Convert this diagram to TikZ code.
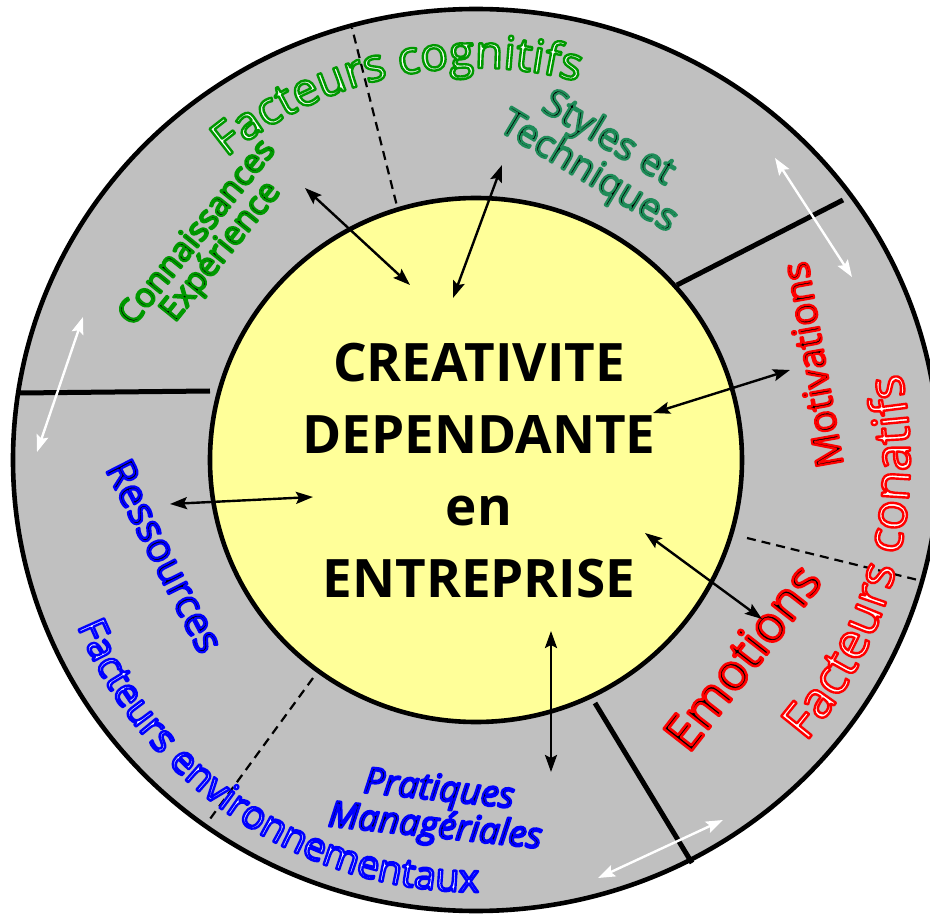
\documentclass[tikz,border=0pt]{standalone}
\usepackage{fontspec}
\setmainfont{Open Sans}
\usetikzlibrary{arrows.meta,decorations.text}

\definecolor{ringgrey}{RGB}{192,192,192}
\definecolor{coreyellow}{RGB}{255,255,153}

% outlined texts: stroke colour (rgb), stroke width
\newcommand{\outl}[2]{\special{pdf:literal direct #1 RG #2 w 1 j 2 Tr}}
\newcommand{\ringtext}[3]{{\color{black}\outl{#1}{#2}#3\special{pdf:literal direct 0 Tr}}}
\newcommand{\facet}[1]{\color{white}\outl{#1}{2.4}}
\newcommand{\catfont}[1]{\fontsize{#1}{#1}\selectfont}
\newcommand{\cogn}{0 0.6 0}
\newcommand{\styl}{0.12 0.55 0.35}
\newcommand{\conr}{1 0 0}
\newcommand{\envb}{0 0 1}

\tikzset{
  link/.style={<->, >={Stealth[length=17pt,width=12pt,inset=3pt]}, line width=2.4pt},
  wlink/.style={link, white},
  split/.style={line width=5pt},
  dsplit/.style={line width=2.2pt, dash pattern=on 9pt off 6pt},
  sublabel/.style={align=center, inner sep=0pt}
}

\begin{document}
\begin{tikzpicture}[x=1pt, y=1pt]
    \useasboundingbox (-476,-456) rectangle (454,460);

    % outer ring
    \draw [line width=4.6pt, fill=ringgrey] (0,0) ellipse [x radius=463, y radius=451];

    % borders between the sectors
    \draw [split] (-456,67) -- (-266,69);
    \draw [split] (201,175) -- (367,260);
    \draw [split] (119,-243) -- (216,-403);
    \draw [dsplit] (-76,242) -- (-124,432);
    \draw [dsplit] (271,-78) -- (446,-121);
    \draw [dsplit] (-163,-218) -- (-266,-359);

    % core
    \draw [line width=4.6pt, fill=coreyellow] (0,0) ellipse [x radius=266, y radius=262];
    \node [font=\fontsize{53}{72}\selectfont\bfseries, align=center] (core) at (3,-11)
        {CREATIVITE\\DEPENDANTE\\en\\ENTREPRISE};

    % families of factors
    \path [decorate, decoration={text along path, text align=center,
        text={|\catfont{46}\facet{\cogn}|Facteurs cognitifs}}]
        (140:392) arc [start angle=140, end angle=64.4, radius=392];
    \path [decorate, decoration={text along path, text align=center,
        text={|\catfont{50}\facet{\conr}|Facteurs conatifs}}]
        (-54:434) arc [start angle=-54, end angle=25, radius=434];
    \path [decorate, decoration={text along path, text align=center,
        text={|\catfont{39}\facet{\envb}|Facteurs environnementaux}}]
        (190:432) arc [start angle=190, end angle=283, radius=432];

    % factors
    \node [sublabel, rotate=51, font=\fontsize{33}{30}\selectfont] (know) at (-266,217)
        {\ringtext{\cogn}{2.1}{Connaissances}\\\ringtext{\cogn}{2.1}{Expérience}};
    \node [sublabel, rotate=-31, font=\fontsize{38}{35}\selectfont] (styles) at (122,304)
        {\ringtext{\styl}{2.2}{Styles et}\\\ringtext{\styl}{2.2}{Techniques}};
    \node [sublabel, rotate=100, font=\fontsize{38}{38}\selectfont] (motiv) at (336,95)
        {\ringtext{\conr}{2.2}{Motivations}};
    \node [sublabel, rotate=52, font=\fontsize{50}{50}\selectfont] (emot) at (266,-197)
        {\ringtext{\conr}{2.6}{Emotions}};
    \node [sublabel, rotate=-63, font=\fontsize{40}{40}\selectfont] (ress) at (-311,-96)
        {\ringtext{\envb}{2.2}{Ressources}};
    \node [sublabel, rotate=-6, font=\fontsize{36}{28}\selectfont\itshape] (prat) at (-39,-350)
        {\ringtext{\envb}{2.2}{Pratiques}\\\ringtext{\envb}{2.2}{Managériales}};

    % arrow ends
    \coordinate (knowA) at (-171,272);
    \coordinate (knowB) at (-66,175);
    \coordinate (stylA) at (26,295);
    \coordinate (stylB) at (-23,162);
    \coordinate (motA) at (314,90);
    \coordinate (motB) at (177,47);
    \coordinate (resA) at (-306,-44);
    \coordinate (resB) at (-163,-37);
    \coordinate (emoA) at (169,-73);
    \coordinate (emoB) at (286,-159);
    \coordinate (pratA) at (75,-171);
    \coordinate (pratB) at (75,-312);
    \coordinate (cogA) at (-393,143);
    \coordinate (cogB) at (-439,8);
    \coordinate (conA) at (299,302);
    \coordinate (conB) at (376,183);
    \coordinate (envA) at (247,-360);
    \coordinate (envB) at (122,-418);

    \draw [link] (knowA) -- (knowB);
    \draw [link] (stylA) -- (stylB);
    \draw [link] (motA) -- (motB);
    \draw [link] (resA) -- (resB);
    \draw [link] (emoA) -- (emoB);
    \draw [link] (pratA) -- (pratB);
    \draw [wlink] (cogA) -- (cogB);
    \draw [wlink] (conA) -- (conB);
    \draw [wlink] (envA) -- (envB);
\end{tikzpicture}
\end{document}
